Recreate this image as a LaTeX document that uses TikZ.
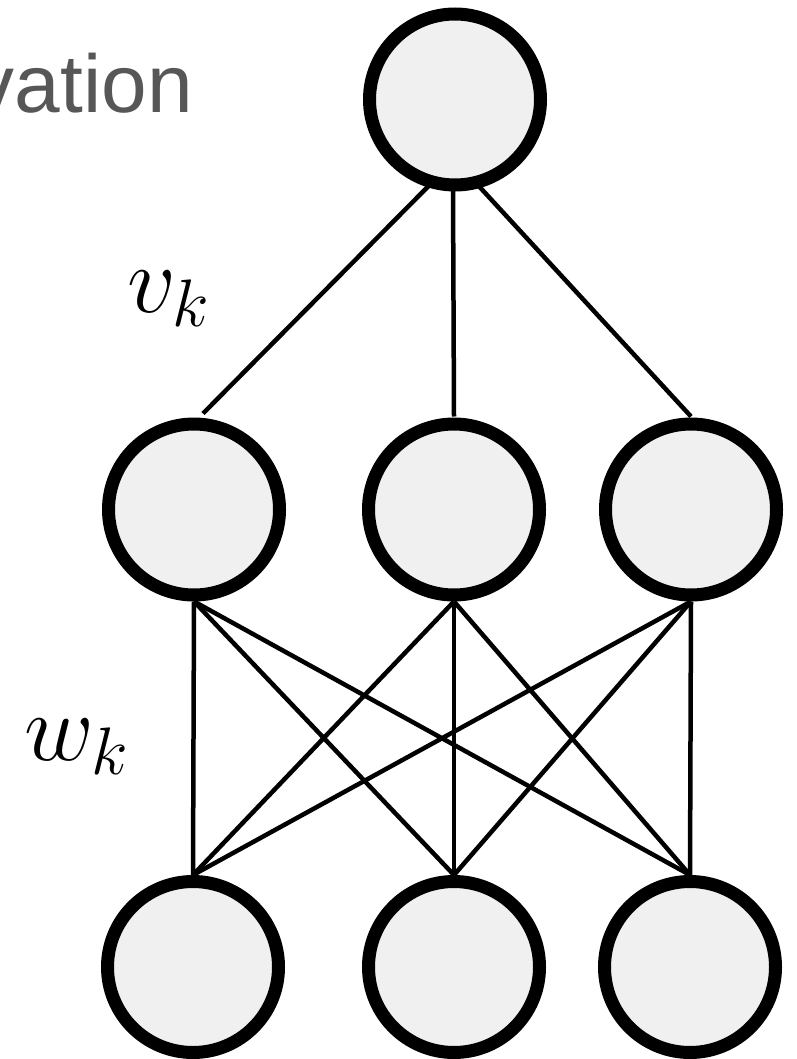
\RequirePackage{fix-cm}
\documentclass[tikz,border=0pt]{standalone}
\usepackage{fontspec}
\newfontfamily\labelsans{Liberation Sans}
\usetikzlibrary{calc,backgrounds}
\definecolor{nodefill}{HTML}{F0F0F0}
\definecolor{textgray}{HTML}{575757}
\begin{document}
\begin{tikzpicture}[x=1pt,y=-1pt,
  neuron/.style={circle, draw=black, line width=13pt, fill=nodefill, minimum size=171pt, inner sep=0pt},
  edge/.style={line width=4.5pt, black},
  mathlabel/.style={inner sep=0pt, anchor=base west, font=\fontsize{96}{110}\selectfont},
  titletext/.style={inner sep=0pt, anchor=base east, text=textgray, font=\labelsans\fontsize{82}{96}\selectfont}]
\useasboundingbox (0,0) rectangle (796,1059);
\node[neuron] (t) at (455,99.5) {};
\node[neuron] (m1) at (194,509.5) {};
\node[neuron] (m2) at (454,509.5) {};
\node[neuron] (m3) at (691,509.5) {};
\node[neuron] (b1) at (193,967) {};
\node[neuron] (b2) at (454,967) {};
\node[neuron] (b3) at (690,967) {};
\node[titletext] (title) at (193,113) {vation};
\node[mathlabel] (vk) at (127,312) {$v_k$};
\node[mathlabel] (wk) at (24,760) {$w_k$};
\begin{scope}[on background layer]
  \draw[edge] ($(t)+(-18,78)$) -- ($(m1)+(9,-96)$);
  \draw[edge] ($(t)+(-2,88)$) -- ($(m2)+(0,-93)$);
  \draw[edge] ($(t)+(15,77)$) -- ($(m3)+(0,-93)$);
  \foreach \i in {1,2,3}
    \foreach \j in {1,2,3}
      \draw[edge] (m\i.south) -- (b\j.north);
\end{scope}
\end{tikzpicture}
\end{document}
